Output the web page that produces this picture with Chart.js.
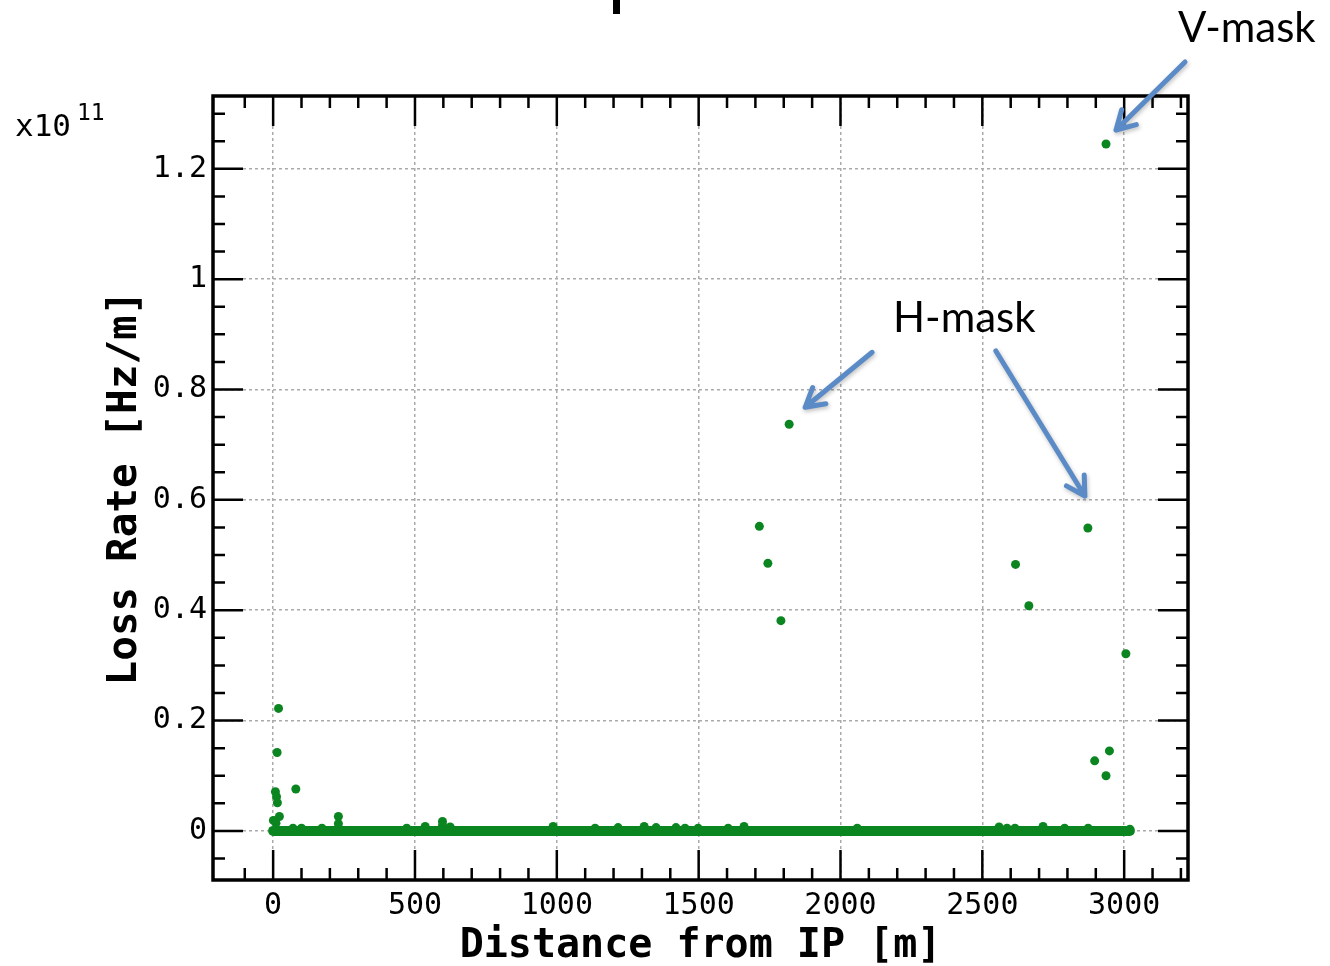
<!DOCTYPE html>
<html>
<head>
<meta charset="utf-8">
<script src="https://cdn.jsdelivr.net/npm/chart.js@4.4.1/dist/chart.umd.min.js"></script>
<style>
  html, body { margin: 0; padding: 0; background: #fff; }
  #lossChart { display: block; }
</style>
</head>
<body>
<canvas id="lossChart" width="1330" height="966"></canvas>
<script>
// loss positions along the ring [m]
const lossDistance = [
  1, 8, 10, 12, 14, 15, 19, 22, 70, 80, 100, 172, 230, 230, 471, 536, 597, 597, 624,
  987, 1135, 1216, 1308, 1350, 1420, 1452, 1498, 1604, 1660,
  1714, 1744, 1790, 1819,
  2059, 2559, 2587, 2615, 2617, 2664, 2714, 2790, 2872, 2873, 2896, 2936, 2936, 2948, 3006, 3020
];
// loss rate at each position [x1e11 Hz/m]
const lossRate = [
  0.019, 0.071, 0.014, 0.062, 0.142, 0.051, 0.222, 0.026, 0.005, 0.076, 0.005, 0.005, 0.026, 0.013, 0.005, 0.008, 0.017, 0.010, 0.007,
  0.008, 0.005, 0.006, 0.008, 0.006, 0.006, 0.005, 0.005, 0.005, 0.008,
  0.552, 0.485, 0.381, 0.737,
  0.005, 0.007, 0.005, 0.005, 0.483, 0.408, 0.008, 0.005, 0.549, 0.005, 0.127, 1.245, 0.100, 0.145, 0.321, 0.003
];
// dense run of near-zero losses all along the ring
const bandDistance = [0, 3020];
const bandRate = [0, 0];

const xTicks = [0, 500, 1000, 1500, 2000, 2500, 3000];
const yTicks = [0, 0.2, 0.4, 0.6, 0.8, 1, 1.2];
const rateExponent = '11';

const green = '#0b8520';
const blue = '#5b8bc6';
const mono = "'DejaVu Sans Mono', monospace";

// arrows: which point they mark, tip offset from the dot, shaft vector
const arrows = [
  { at: [2936, 1.245], tip: [10, -14], shaft: [69, -68] },
  { at: [1819, 0.737], tip: [16, -17], shaft: [67, -55] },
  { at: [2872, 0.549], tip: [-3, -32], shaft: [-89, -145] }
];
const labels = [
  { text: 'V-mask', x: 1178, y: 42 },
  { text: 'H-mask', x: 893, y: 332 }
];

const toPoints = (xs, ys) => xs.map((v, i) => ({ x: v, y: ys[i] }));

const framePlugin = {
  id: 'frame',
  afterDraw(chart) {
    const { ctx, chartArea: a, scales: { x, y } } = chart;
    ctx.save();

    // inward ticks on all four sides
    ctx.strokeStyle = '#000';
    ctx.lineWidth = 2.5;
    ctx.beginPath();
    for (let i = -3; i <= 33; i++) {
      const px = x.getPixelForValue(i * 100);
      if (px < a.left + 4 || px > a.right - 4) continue;
      const len = i % 5 === 0 ? 30 : 12;
      ctx.moveTo(px, a.bottom); ctx.lineTo(px, a.bottom - len);
      ctx.moveTo(px, a.top); ctx.lineTo(px, a.top + len);
    }
    for (let i = -2; i <= 27; i++) {
      const py = y.getPixelForValue(i * 0.05);
      if (py < a.top + 4 || py > a.bottom - 4) continue;
      const len = i % 4 === 0 ? 30 : 12;
      ctx.moveTo(a.left, py); ctx.lineTo(a.left + len, py);
      ctx.moveTo(a.right, py); ctx.lineTo(a.right - len, py);
    }
    ctx.stroke();

    ctx.lineWidth = 3.5;
    ctx.strokeRect(a.left, a.top, a.right - a.left, a.bottom - a.top);

    // axis multiplier
    ctx.fillStyle = '#000';
    ctx.textBaseline = 'alphabetic';
    ctx.textAlign = 'left';
    ctx.font = '31px ' + mono;
    ctx.fillText('x10', 15, 136);
    ctx.font = '23px ' + mono;
    ctx.fillText(rateExponent, 77, 120);

    // stray stroke at the top edge
    ctx.fillRect(613, 0, 7, 14);

    // arrows pointing at the mask losses
    ctx.strokeStyle = blue;
    ctx.lineWidth = 5;
    ctx.lineCap = 'round';
    ctx.lineJoin = 'round';
    ctx.shadowColor = 'rgba(0,0,0,0.25)';
    ctx.shadowBlur = 4;
    ctx.shadowOffsetX = 1;
    ctx.shadowOffsetY = 2;
    arrows.forEach(ar => {
      const tx = x.getPixelForValue(ar.at[0]) + ar.tip[0];
      const ty = y.getPixelForValue(ar.at[1]) + ar.tip[1];
      const sx = tx + ar.shaft[0], sy = ty + ar.shaft[1];
      const ang = Math.atan2(ar.shaft[1], ar.shaft[0]);
      const head = 21, spread = 0.52;
      ctx.beginPath();
      ctx.moveTo(sx, sy);
      ctx.lineTo(tx, ty);
      ctx.moveTo(tx + head * Math.cos(ang - spread), ty + head * Math.sin(ang - spread));
      ctx.lineTo(tx, ty);
      ctx.lineTo(tx + head * Math.cos(ang + spread), ty + head * Math.sin(ang + spread));
      ctx.stroke();
    });
    ctx.shadowColor = 'transparent';

    ctx.fillStyle = '#000';
    ctx.font = '42px Lato, "Open Sans", sans-serif';
    labels.forEach(l => ctx.fillText(l.text, l.x, l.y));

    ctx.restore();
  }
};

new Chart(document.getElementById('lossChart'), {
  type: 'scatter',
  data: {
    datasets: [
      {
        type: 'line',
        label: 'baseline',
        data: toPoints(bandDistance, bandRate),
        borderColor: green,
        backgroundColor: green,
        borderWidth: 10,
        borderCapStyle: 'round',
        pointRadius: 0,
        fill: false
      },
      {
        label: 'Loss Rate',
        data: toPoints(lossDistance, lossRate),
        backgroundColor: green,
        borderColor: green,
        borderWidth: 0,
        pointRadius: 4.5
      }
    ]
  },
  options: {
    responsive: false,
    devicePixelRatio: 1,
    animation: false,
    layout: { padding: { top: 96, right: 142, left: 0, bottom: 0 } },
    plugins: {
      legend: { display: false },
      tooltip: { enabled: false }
    },
    scales: {
      x: {
        type: 'linear',
        min: -212,
        max: 3225,
        afterFit: s => { s.height = 86; },
        afterBuildTicks: s => { s.ticks = xTicks.map(v => ({ value: v })); },
        ticks: {
          autoSkip: false,
          maxRotation: 0,
          padding: 8,
          color: '#000',
          font: { family: mono, size: 30 },
          callback: v => String(v)
        },
        grid: { color: '#aaaaaa', lineWidth: 1.5, drawTicks: false },
        border: { display: false, dash: [3, 3] },
        title: {
          display: true,
          text: 'Distance from IP [m]',
          color: '#000',
          font: { family: mono, size: 40, weight: 'bold', lineHeight: 1 },
          padding: { top: 0, bottom: -1 }
        }
      },
      y: {
        type: 'linear',
        min: -0.089,
        max: 1.332,
        afterFit: s => { s.width = 213; },
        afterBuildTicks: s => { s.ticks = yTicks.map(v => ({ value: v })); },
        ticks: {
          autoSkip: false,
          padding: 6,
          color: '#000',
          font: { family: mono, size: 30 },
          callback: v => String(+v.toFixed(2))
        },
        grid: { color: '#aaaaaa', lineWidth: 1.5, drawTicks: false },
        border: { display: false, dash: [3, 3] },
        title: {
          display: true,
          text: 'Loss Rate [Hz/m]',
          color: '#000',
          font: { family: mono, size: 41, weight: 'bold', lineHeight: 1 },
          padding: { top: 105, bottom: 0 }
        }
      }
    }
  },
  plugins: [framePlugin]
});
</script>
</body>
</html>
